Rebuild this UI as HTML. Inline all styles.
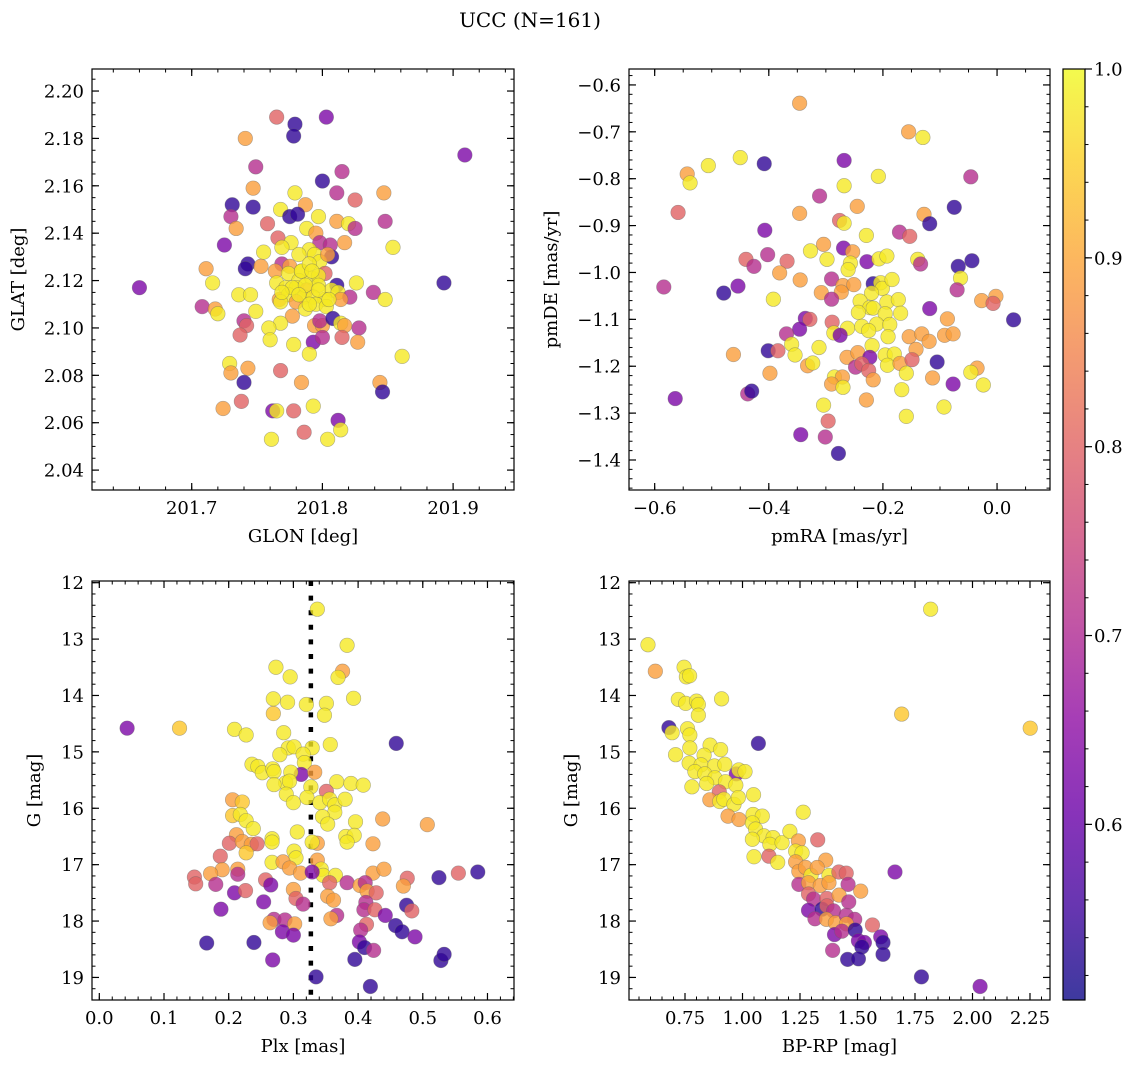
<!DOCTYPE html>
<html><head><meta charset="utf-8"><style>
html,body{margin:0;padding:0;background:#fff;}
svg{display:block;font-family:"DejaVu Serif","Liberation Serif",serif;}
</style></head><body>
<svg id="fig" width="1135" height="1068" viewBox="0 0 1135 1068" xmlns="http://www.w3.org/2000/svg">
<defs>
<linearGradient id="plasmaGrad" x1="0" y1="1" x2="0" y2="0">
<stop offset="0" stop-color="#0d0887"/><stop offset="0.1" stop-color="#41049d"/><stop offset="0.2" stop-color="#6a00a8"/>
<stop offset="0.3" stop-color="#8f0da4"/><stop offset="0.4" stop-color="#b12a90"/><stop offset="0.5" stop-color="#cc4778"/>
<stop offset="0.6" stop-color="#e16462"/><stop offset="0.7" stop-color="#f2844b"/><stop offset="0.8" stop-color="#fca636"/>
<stop offset="0.9" stop-color="#fcce25"/><stop offset="1" stop-color="#f0f921"/>
</linearGradient>
</defs>
<text x="530" y="27" font-size="20" text-anchor="middle">UCC (N=161)</text>
<g id="layer"></g>
</svg>
<script>
// Panel 1: GLON vs GLAT
const glon = [201.660,201.909,201.893,201.765,201.803,201.779,201.778,201.741,201.749,201.815,
201.800,201.747,201.779,201.811,201.847,201.825,201.731,201.747,201.787,201.768,
201.730,201.775,201.781,201.797,201.734,201.758,201.811,201.820,201.825,201.848,
201.788,201.795,201.725,201.766,201.776,201.798,201.806,201.817,201.854,201.769,
201.790,201.755,201.782,201.794,201.807,201.798,201.804,201.743,201.753,201.711,
201.741,201.769,201.775,201.764,201.774,201.784,201.802,201.716,201.765,201.782,
201.792,201.797,201.811,201.826,201.736,201.745,201.772,201.780,201.788,201.797,
201.807,201.812,201.821,201.839,201.848,201.767,201.774,201.786,201.793,201.802,
201.814,201.708,201.718,201.720,201.749,201.768,201.780,201.787,201.795,201.803,
201.777,201.740,201.742,201.768,201.759,201.794,201.800,201.798,201.808,201.814,
201.817,201.828,201.737,201.760,201.793,201.800,201.815,201.827,201.778,201.790,
201.861,201.729,201.743,201.730,201.768,201.740,201.784,201.844,201.846,201.738,
201.724,201.762,201.765,201.778,201.793,201.812,201.814,201.786,201.761,201.804,
201.784,201.790,201.777,201.787,201.792,201.782,201.769,201.797,201.805,201.790];
const glat = [2.117,2.173,2.119,2.189,2.189,2.186,2.181,2.180,2.168,2.166,
2.162,2.159,2.157,2.157,2.157,2.154,2.152,2.151,2.152,2.150,
2.147,2.147,2.148,2.147,2.142,2.144,2.145,2.144,2.142,2.145,
2.142,2.140,2.135,2.138,2.136,2.136,2.135,2.136,2.134,2.134,
2.133,2.132,2.131,2.131,2.130,2.128,2.131,2.127,2.126,2.125,
2.125,2.127,2.126,2.124,2.123,2.124,2.123,2.119,2.119,2.120,
2.121,2.122,2.118,2.119,2.114,2.114,2.117,2.117,2.116,2.118,
2.116,2.115,2.113,2.115,2.112,2.112,2.114,2.113,2.113,2.112,
2.112,2.109,2.108,2.106,2.107,2.111,2.111,2.108,2.110,2.109,
2.105,2.103,2.101,2.102,2.100,2.101,2.101,2.103,2.104,2.102,
2.101,2.100,2.097,2.095,2.094,2.096,2.096,2.094,2.093,2.089,
2.088,2.085,2.083,2.081,2.082,2.077,2.077,2.077,2.073,2.069,
2.066,2.065,2.065,2.065,2.067,2.061,2.057,2.056,2.053,2.053,
2.124,2.127,2.117,2.118,2.124,2.114,2.115,2.116,2.112,2.110];
const prob1 = [0.63,0.63,0.54,0.80,0.63,0.54,0.54,0.89,0.71,0.71,
0.54,0.89,0.98,0.71,0.89,0.80,0.54,0.54,0.89,0.98,
0.71,0.54,0.54,0.98,0.89,0.80,0.89,0.98,0.71,0.71,
0.98,0.89,0.63,0.80,0.98,0.71,0.71,0.89,0.98,0.98,
0.98,0.98,0.98,0.98,0.54,0.98,0.89,0.54,0.89,0.89,
0.54,0.71,0.89,0.89,0.98,0.98,0.80,0.98,0.98,0.98,
0.98,0.98,0.54,0.98,0.98,0.98,0.98,0.98,0.89,0.98,
0.98,0.98,0.71,0.71,0.98,0.89,0.98,0.98,0.98,0.98,
0.89,0.71,0.89,0.98,0.98,0.98,0.89,0.98,0.98,0.98,
0.89,0.71,0.80,0.98,0.98,0.89,0.89,0.71,0.54,0.98,
0.89,0.71,0.80,0.98,0.63,0.71,0.80,0.89,0.98,0.98,
0.98,0.98,0.89,0.89,0.80,0.54,0.89,0.89,0.54,0.80,
0.89,0.63,0.98,0.80,0.98,0.63,0.98,0.80,0.98,0.98,
0.98,0.98,0.98,0.98,0.98,0.98,0.98,0.98,0.98,0.98];

// Panel 2: pmRA vs pmDE
const pmra = [-0.346,-0.155,-0.130,-0.450,-0.506,-0.408,-0.268,-0.543,-0.538,-0.208,
-0.046,-0.268,-0.311,-0.559,-0.346,-0.245,-0.075,-0.128,-0.118,-0.276,
-0.268,-0.407,-0.229,-0.171,-0.153,-0.304,-0.327,-0.269,-0.253,-0.402,
-0.440,-0.426,-0.368,-0.298,-0.257,-0.261,-0.228,-0.207,-0.193,-0.139,
-0.134,-0.068,-0.044,-0.064,-0.584,-0.479,-0.454,-0.381,-0.345,-0.290,
-0.270,-0.251,-0.273,-0.308,-0.217,-0.204,-0.201,-0.184,-0.220,-0.070,
-0.392,-0.290,-0.240,-0.193,-0.173,-0.027,-0.002,-0.007,-0.118,0.029,
-0.223,-0.217,-0.243,-0.196,-0.169,-0.336,-0.328,-0.087,-0.289,-0.262,
-0.237,-0.211,-0.188,-0.346,-0.369,-0.286,-0.275,-0.225,-0.191,-0.154,
-0.132,-0.119,-0.092,-0.077,-0.462,-0.401,-0.384,-0.360,-0.354,-0.312,
-0.219,-0.142,-0.332,-0.323,-0.263,-0.244,-0.223,-0.196,-0.180,-0.192,
-0.170,-0.149,-0.248,-0.237,-0.225,-0.105,-0.398,-0.035,-0.046,-0.285,
-0.271,-0.290,-0.270,-0.217,-0.159,-0.113,-0.077,-0.024,-0.167,-0.564,
-0.437,-0.430,-0.304,-0.229,-0.093,-0.296,-0.159,-0.344,-0.301,-0.278];
const pmde = [-0.639,-0.700,-0.712,-0.755,-0.772,-0.768,-0.761,-0.790,-0.809,-0.795,
-0.796,-0.815,-0.837,-0.872,-0.874,-0.859,-0.861,-0.876,-0.896,-0.889,
-0.895,-0.910,-0.921,-0.914,-0.923,-0.940,-0.954,-0.948,-0.956,-0.962,
-0.972,-0.987,-0.976,-0.972,-0.980,-0.994,-0.977,-0.971,-0.965,-0.972,
-0.982,-0.987,-0.975,-1.012,-1.031,-1.044,-1.029,-1.001,-1.016,-1.014,
-1.028,-1.026,-1.042,-1.043,-1.024,-1.022,-1.034,-1.015,-1.044,-1.037,
-1.057,-1.057,-1.061,-1.063,-1.058,-1.060,-1.051,-1.066,-1.077,-1.101,
-1.075,-1.076,-1.085,-1.088,-1.087,-1.098,-1.100,-1.099,-1.106,-1.119,
-1.115,-1.110,-1.111,-1.121,-1.131,-1.129,-1.134,-1.124,-1.137,-1.137,
-1.131,-1.147,-1.134,-1.131,-1.175,-1.167,-1.167,-1.153,-1.176,-1.160,
-1.156,-1.164,-1.199,-1.193,-1.181,-1.171,-1.181,-1.176,-1.174,-1.198,
-1.194,-1.186,-1.202,-1.195,-1.209,-1.191,-1.215,-1.204,-1.213,-1.223,
-1.223,-1.238,-1.245,-1.229,-1.215,-1.225,-1.238,-1.240,-1.250,-1.269,
-1.259,-1.253,-1.283,-1.272,-1.287,-1.317,-1.307,-1.346,-1.351,-1.386];
const prob2 = [0.89,0.89,0.98,0.98,0.98,0.54,0.63,0.89,0.98,0.98,
0.71,0.98,0.71,0.80,0.89,0.89,0.54,0.89,0.54,0.80,
0.98,0.63,0.98,0.71,0.80,0.89,0.98,0.63,0.89,0.71,
0.80,0.71,0.80,0.98,0.98,0.98,0.63,0.98,0.98,0.98,
0.71,0.54,0.54,0.98,0.71,0.54,0.63,0.89,0.89,0.71,
0.89,0.89,0.89,0.89,0.54,0.98,0.98,0.98,0.98,0.71,
0.98,0.71,0.98,0.98,0.98,0.89,0.89,0.80,0.63,0.54,
0.98,0.98,0.98,0.98,0.98,0.63,0.80,0.89,0.80,0.98,
0.98,0.98,0.98,0.63,0.71,0.98,0.63,0.98,0.98,0.89,
0.89,0.89,0.89,0.89,0.89,0.54,0.80,0.98,0.98,0.98,
0.98,0.89,0.89,0.98,0.89,0.89,0.63,0.98,0.98,0.98,
0.89,0.80,0.71,0.80,0.80,0.54,0.89,0.89,0.98,0.98,
0.89,0.89,0.98,0.89,0.98,0.89,0.63,0.98,0.98,0.63,
0.71,0.54,0.98,0.89,0.98,0.80,0.98,0.63,0.71,0.54];

// Panel 3: Plx vs G
const plx = [0.337,0.383,0.376,0.369,0.273,0.295,0.269,0.291,0.320,0.351,
0.393,0.348,0.269,0.043,0.124,0.209,0.227,0.285,0.459,0.357,
0.292,0.301,0.279,0.329,0.315,0.317,0.236,0.245,0.252,0.268,
0.270,0.312,0.333,0.296,0.288,0.270,0.294,0.327,0.367,0.389,
0.408,0.351,0.289,0.300,0.321,0.341,0.356,0.364,0.364,0.380,
0.206,0.221,0.206,0.218,0.227,0.238,0.345,0.353,0.396,0.438,
0.507,0.212,0.201,0.221,0.235,0.244,0.227,0.267,0.267,0.306,
0.337,0.329,0.381,0.394,0.383,0.423,0.187,0.301,0.304,0.267,
0.284,0.294,0.337,0.343,0.346,0.365,0.190,0.214,0.214,0.147,
0.149,0.172,0.180,0.311,0.329,0.423,0.440,0.476,0.470,0.525,
0.555,0.585,0.257,0.265,0.300,0.356,0.383,0.403,0.411,0.414,
0.428,0.209,0.226,0.254,0.304,0.315,0.353,0.362,0.188,0.412,
0.409,0.426,0.442,0.475,0.483,0.367,0.358,0.270,0.264,0.287,
0.302,0.283,0.300,0.413,0.404,0.458,0.468,0.488,0.166,0.239,
0.402,0.410,0.424,0.268,0.395,0.528,0.533,0.335,0.419];
const gmag3 = [12.47,13.11,13.57,13.68,13.50,13.67,14.06,14.12,14.16,14.14,
14.05,14.35,14.32,14.58,14.58,14.60,14.70,14.66,14.85,14.87,
14.93,14.91,15.05,14.93,15.04,15.19,15.22,15.26,15.37,15.30,
15.35,15.40,15.36,15.36,15.55,15.58,15.52,15.62,15.53,15.56,
15.59,15.70,15.75,15.90,15.81,15.90,15.84,15.94,16.07,15.84,
15.85,15.89,16.13,16.11,16.22,16.36,16.15,16.28,16.24,16.19,
16.29,16.47,16.62,16.59,16.64,16.63,16.79,16.54,16.60,16.42,
16.62,16.60,16.50,16.48,16.60,16.63,16.85,16.76,16.88,16.96,
16.95,17.06,16.92,17.08,17.19,17.19,17.09,17.08,17.17,17.22,
17.34,17.16,17.35,17.15,17.13,17.15,17.08,17.24,17.38,17.23,
17.15,17.13,17.27,17.36,17.44,17.32,17.32,17.37,17.32,17.47,
17.50,17.50,17.46,17.66,17.60,17.70,17.56,17.63,17.79,17.67,
17.80,17.80,17.90,17.72,17.82,17.90,17.96,17.97,18.03,17.98,
18.05,18.19,18.25,18.06,18.16,18.08,18.19,18.28,18.39,18.38,
18.37,18.47,18.52,18.69,18.68,18.70,18.59,18.99,19.16];
const prob3 = [0.98,0.98,0.89,0.98,0.98,0.98,0.98,0.98,0.98,0.98,
0.98,0.98,0.94,0.63,0.94,0.98,0.98,0.98,0.54,0.98,
0.98,0.98,0.98,0.98,0.98,0.98,0.98,0.98,0.98,0.98,
0.98,0.63,0.89,0.98,0.98,0.98,0.98,0.98,0.98,0.98,
0.98,0.80,0.98,0.98,0.98,0.98,0.98,0.98,0.98,0.98,
0.89,0.94,0.94,0.98,0.98,0.98,0.98,0.98,0.98,0.89,
0.89,0.89,0.80,0.89,0.89,0.80,0.94,0.98,0.98,0.98,
0.89,0.98,0.98,0.98,0.98,0.89,0.80,0.98,0.98,0.98,
0.89,0.89,0.89,0.98,0.98,0.98,0.89,0.89,0.71,0.80,
0.80,0.89,0.71,0.89,0.63,0.89,0.89,0.80,0.89,0.54,
0.80,0.54,0.80,0.63,0.89,0.80,0.71,0.89,0.71,0.89,
0.80,0.63,0.80,0.63,0.80,0.71,0.89,0.89,0.63,0.71,
0.71,0.80,0.63,0.54,0.80,0.71,0.89,0.71,0.89,0.71,
0.89,0.63,0.63,0.80,0.71,0.54,0.54,0.63,0.54,0.54,
0.63,0.54,0.71,0.63,0.54,0.54,0.54,0.54,0.54];

// Panel 4: BP-RP vs G
const bprp = [0.589,0.621,0.746,0.756,0.770,0.721,0.753,0.800,0.808,0.909,
0.808,1.818,1.692,2.251,0.680,0.694,0.761,0.771,1.069,0.771,
0.859,0.905,0.709,0.833,0.768,0.820,0.878,0.923,0.793,0.836,
0.880,0.973,0.984,1.011,0.780,0.844,0.926,0.971,0.899,1.048,
0.858,0.901,0.919,0.963,0.982,0.937,0.985,1.046,1.086,1.264,
1.043,1.057,1.093,1.133,1.043,1.119,1.172,1.206,1.050,1.115,
1.153,1.243,1.327,1.231,1.259,1.231,1.362,1.245,1.274,1.298,
1.325,1.376,1.419,1.451,1.663,1.245,1.287,1.338,1.376,1.459,
1.514,1.287,1.309,1.367,1.420,1.462,1.287,1.346,1.367,1.396,
1.315,1.365,1.404,1.451,1.488,1.452,1.565,1.400,1.432,1.490,
1.504,1.530,1.519,1.601,1.611,1.611,1.392,1.457,1.504,1.778,2.033];
const gmag4 = [13.10,13.57,13.50,13.67,13.65,14.07,14.14,14.10,14.16,14.06,
14.35,12.47,14.33,14.58,14.57,14.66,14.59,14.70,14.85,14.93,
14.88,14.96,15.05,15.06,15.20,15.23,15.25,15.22,15.35,15.39,
15.46,15.39,15.32,15.35,15.62,15.56,15.53,15.59,15.71,15.76,
15.85,15.88,15.84,15.93,15.81,16.14,16.20,16.11,16.14,16.07,
16.26,16.37,16.49,16.52,16.55,16.64,16.61,16.41,16.86,16.85,
16.96,16.58,16.56,16.76,16.79,16.95,16.92,17.12,17.05,17.19,
17.05,17.19,17.13,17.15,17.13,17.35,17.32,17.37,17.32,17.35,
17.47,17.52,17.61,17.60,17.54,17.66,17.81,17.79,17.73,17.82,
17.96,17.97,18.03,17.90,17.97,18.05,18.07,18.24,18.18,18.16,
18.35,18.38,18.46,18.28,18.38,18.59,18.52,18.68,18.67,18.99,19.16];
const prob4 = [0.98,0.89,0.98,0.98,0.98,0.98,0.98,0.98,0.98,0.98,
0.98,0.98,0.94,0.94,0.54,0.98,0.98,0.98,0.54,0.98,
0.98,0.98,0.98,0.98,0.98,0.98,0.98,0.98,0.98,0.98,
0.98,0.63,0.98,0.98,0.98,0.98,0.98,0.98,0.80,0.98,
0.89,0.98,0.98,0.98,0.98,0.89,0.89,0.98,0.98,0.98,
0.98,0.98,0.98,0.98,0.98,0.98,0.98,0.98,0.98,0.80,
0.98,0.89,0.80,0.98,0.98,0.89,0.89,0.89,0.89,0.98,
0.89,0.98,0.80,0.80,0.63,0.71,0.89,0.89,0.89,0.71,
0.89,0.80,0.71,0.80,0.89,0.71,0.63,0.54,0.80,0.71,
0.71,0.89,0.89,0.71,0.71,0.89,0.80,0.63,0.71,0.54,
0.63,0.63,0.54,0.63,0.54,0.54,0.71,0.54,0.54,0.54,0.63];

// Colorbar ticks
const cbTicks = [0.6,0.7,0.8,0.9,1.0];
const cbMin = 0.507, cbMax = 1.0;

const NS = 'http://www.w3.org/2000/svg';
const layer = document.getElementById('layer');
function mk(tag, attrs, parent){
  const e = document.createElementNS(NS, tag);
  for (const k in attrs) e.setAttribute(k, attrs[k]);
  (parent||layer).appendChild(e);
  return e;
}
const PL = [[0,'#0d0887'],[0.1,'#41049d'],[0.2,'#6a00a8'],[0.3,'#8f0da4'],[0.4,'#b12a90'],[0.5,'#cc4778'],
[0.6,'#e16462'],[0.7,'#f2844b'],[0.8,'#fca636'],[0.9,'#fcce25'],[1,'#f0f921']];
function hex(h){return [parseInt(h.substr(1,2),16),parseInt(h.substr(3,2),16),parseInt(h.substr(5,2),16)];}
function plasma(v){
  let t = (v-cbMin)/(cbMax-cbMin); t = Math.max(0,Math.min(1,t));
  for (let i=0;i<PL.length-1;i++){
    if (t<=PL[i+1][0]){
      const f=(t-PL[i][0])/(PL[i+1][0]-PL[i][0]);
      const a=hex(PL[i][1]), b=hex(PL[i+1][1]);
      return 'rgb('+a.map((c,j)=>Math.round(c+(b[j]-c)*f)).join(',')+')';
    }
  }
  return PL[PL.length-1][1];
}
function fmt(v,d){const s=v.toFixed(d);return s.startsWith('-')?'\u2212'+s.slice(1):s;}
const FS = 18;

function panel(cfg, xs, ys, ps){
  const g = mk('g',{});
  
  
  const {x0,x1,y0,y1} = cfg.box;
  const sx = v => x0 + (v-cfg.xd[0])/(cfg.xd[1]-cfg.xd[0])*(x1-x0);
  const sy = cfg.invert ? (v => y0 + (v-cfg.yd[0])/(cfg.yd[1]-cfg.yd[0])*(y1-y0))
                        : (v => y1 - (v-cfg.yd[0])/(cfg.yd[1]-cfg.yd[0])*(y1-y0));
  const clip = mk('clipPath',{id:cfg.name+'-clip'},g);
  mk('rect',{x:x0,y:y0,width:x1-x0,height:y1-y0},clip);
  const pts = mk('g',{'clip-path':'url(#'+cfg.name+'-clip)'},g);
  
  
  if (cfg.vline!==undefined){
    const l = mk('line',{x1:sx(cfg.vline),x2:sx(cfg.vline),y1:y0,y2:y1,stroke:'#000','stroke-width':4.5,'stroke-dasharray':'5,9.6'},pts);
    
    
  }
  for (let i=0;i<xs.length;i++){
    const c = mk('circle',{cx:sx(xs[i]),cy:sy(ys[i]),r:7.3,fill:plasma(ps[i]),'fill-opacity':0.8,stroke:'#666','stroke-opacity':0.5,'stroke-width':0.6},pts);
    
    
  }
  const fr = mk('rect',{x:x0,y:y0,width:x1-x0,height:y1-y0,fill:'none',stroke:'#000','stroke-width':1.2},g);
  
  
  const eps=1e-9;
  function ticks(step, lo, hi){const a=[];let s=Math.ceil(lo/step-eps);for(let k=s;k*step<=hi+eps;k++)a.push(+(k*step).toFixed(6));return a;}
  ticks(cfg.xminor,cfg.xd[0],cfg.xd[1]).forEach(v=>{const X=sx(v);
    mk('line',{x1:X,x2:X,y1:y1,y2:y1-3.5,stroke:'#000','stroke-width':1},g);
    mk('line',{x1:X,x2:X,y1:y0,y2:y0+3.5,stroke:'#000','stroke-width':1},g);});
  ticks(cfg.yminor,Math.min(...cfg.yd),Math.max(...cfg.yd)).forEach(v=>{const Y=sy(v);
    mk('line',{x1:x0,x2:x0+3.5,y1:Y,y2:Y,stroke:'#000','stroke-width':1},g);
    mk('line',{x1:x1,x2:x1-3.5,y1:Y,y2:Y,stroke:'#000','stroke-width':1},g);});
  cfg.xticks.forEach(v=>{const X=sx(v);
    mk('line',{x1:X,x2:X,y1:y1,y2:y1-7,stroke:'#000','stroke-width':1.2},g);
    mk('line',{x1:X,x2:X,y1:y0,y2:y0+7,stroke:'#000','stroke-width':1.2},g);
    const t=mk('text',{x:X,y:y1+24,'font-size':FS,'text-anchor':'middle'},g);t.textContent=fmt(v,cfg.xdec);
    
    });
  cfg.yticks.forEach(v=>{const Y=sy(v);
    mk('line',{x1:x0,x2:x0+7,y1:Y,y2:Y,stroke:'#000','stroke-width':1.2},g);
    mk('line',{x1:x1,x2:x1-7,y1:Y,y2:Y,stroke:'#000','stroke-width':1.2},g);
    const t=mk('text',{x:x0-8,y:Y+6.5,'font-size':FS,'text-anchor':'end'},g);t.textContent=fmt(v,cfg.ydec);
    
    });
  const xl=mk('text',{x:(x0+x1)/2,y:y1+52,'font-size':FS,'text-anchor':'middle'},g);xl.textContent=cfg.xlabel;
  
  
  const yl=mk('text',{x:0,y:0,'font-size':FS,'text-anchor':'middle',transform:'translate('+cfg.ylx+','+((y0+y1)/2)+') rotate(-90)'},g);yl.textContent=cfg.ylabel;
  
  
}

panel({name:'glon-glat-panel',box:{x0:92,x1:514,y0:69,y1:490},xd:[201.6237,201.9466],yd:[2.0316,2.2093],
  xticks:[201.7,201.8,201.9],xminor:0.02,xdec:1,yticks:[2.04,2.06,2.08,2.10,2.12,2.14,2.16,2.18,2.20],yminor:0.005,ydec:2,
  xlabel:'GLON [deg]',ylabel:'GLAT [deg]',ylx:24}, glon, glat, prob1);
panel({name:'pm-panel',box:{x0:629,x1:1050,y0:69,y1:490},xd:[-0.645,0.0928],yd:[-1.464,-0.566],
  xticks:[-0.6,-0.4,-0.2,0.0],xminor:0.05,xdec:1,yticks:[-1.4,-1.3,-1.2,-1.1,-1.0,-0.9,-0.8,-0.7,-0.6],yminor:0.02,ydec:1,
  xlabel:'pmRA [mas/yr]',ylabel:'pmDE [mas/yr]',ylx:557}, pmra, pmde, prob2);
panel({name:'plx-g-panel',box:{x0:92,x1:514,y0:581,y1:1000},xd:[-0.0113,0.641],yd:[11.97,19.40],invert:true,vline:0.327,
  xticks:[0,0.1,0.2,0.3,0.4,0.5,0.6],xminor:0.02,xdec:1,yticks:[12,13,14,15,16,17,18,19],yminor:0.2,ydec:0,
  xlabel:'Plx [mas]',ylabel:'G [mag]',ylx:40}, plx, gmag3, prob3);
panel({name:'cmd-panel',box:{x0:629,x1:1050,y0:581,y1:1000},xd:[0.5065,2.337],yd:[11.97,19.40],invert:true,
  xticks:[0.75,1.0,1.25,1.5,1.75,2.0,2.25],xminor:0.05,xdec:2,yticks:[12,13,14,15,16,17,18,19],yminor:0.2,ydec:0,
  xlabel:'BP-RP [mag]',ylabel:'G [mag]',ylx:577}, bprp, gmag4, prob4);

(function(){
  const g = mk('g',{});
  
  
  const X0=1063,X1=1085,Y0=69,Y1=1000;
  mk('rect',{x:X0,y:Y0,width:X1-X0,height:Y1-Y0,fill:'url(#plasmaGrad)','fill-opacity':0.8},g);
  mk('rect',{x:X0,y:Y0,width:X1-X0,height:Y1-Y0,fill:'none',stroke:'#000','stroke-width':1.2},g);
  const sy=v=>Y1-(v-cbMin)/(cbMax-cbMin)*(Y1-Y0);
  for(let k=26;k<=50;k++){const v=k*0.02; if(v<cbMin||v>cbMax+1e-9)continue;const Y=sy(v);
    mk('line',{x1:X1,x2:X1+3.5,y1:Y,y2:Y,stroke:'#000','stroke-width':1},g);}
  cbTicks.forEach(v=>{const Y=sy(v);
    mk('line',{x1:X1,x2:X1+7,y1:Y,y2:Y,stroke:'#000','stroke-width':1.2},g);
    const t=mk('text',{x:X1+9,y:Y+6.5,'font-size':FS},g);t.textContent=v.toFixed(1);
    
    });
})();
</script>
</body></html>
